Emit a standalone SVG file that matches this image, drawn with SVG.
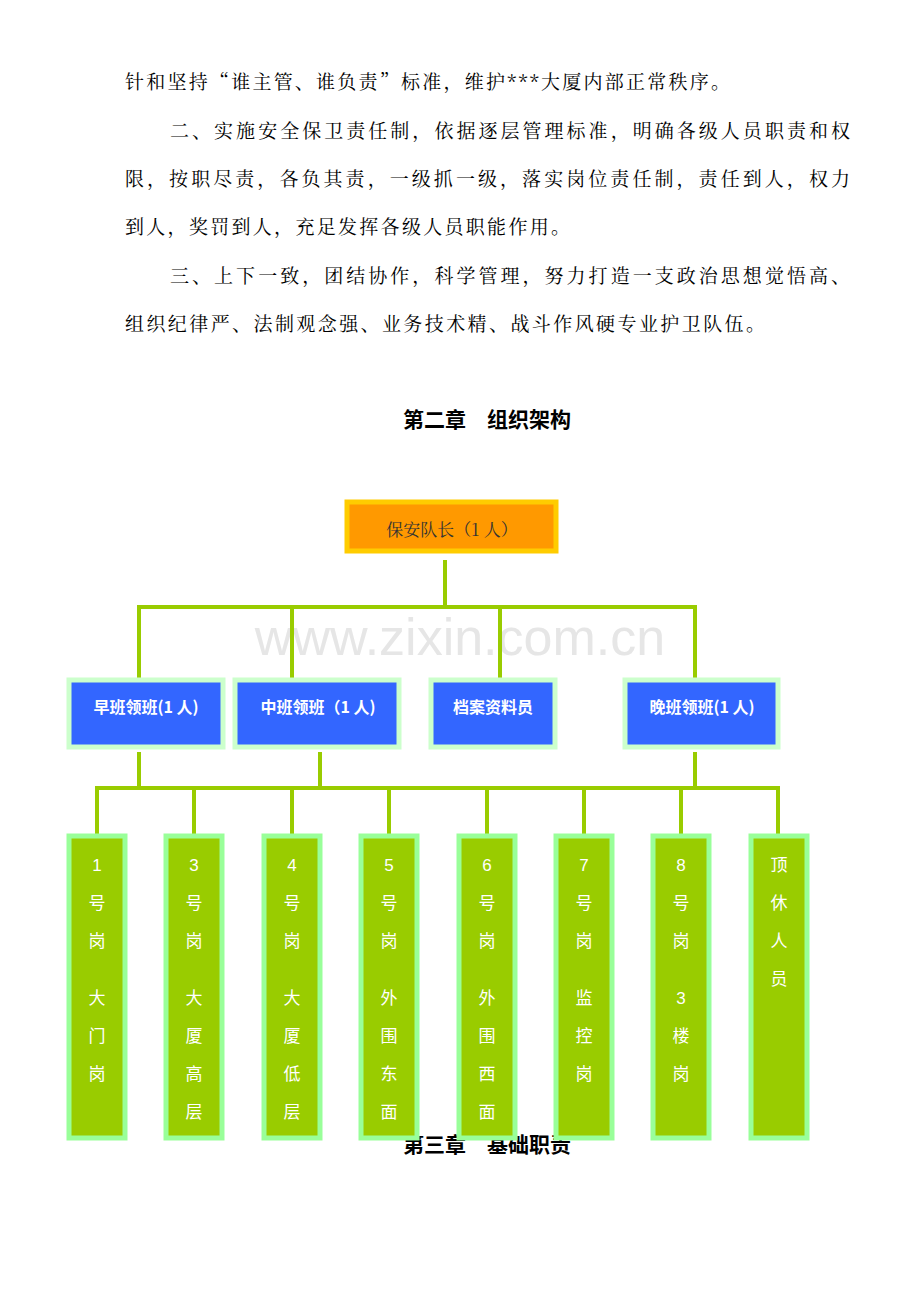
<svg xmlns="http://www.w3.org/2000/svg" width="920" height="1302" viewBox="0 0 920 1302">
<style>
.p{font-family:"Noto Serif CJK SC","Liberation Serif","Noto Sans CJK SC",serif;font-size:19px;fill:#000}
.h{font-family:"Noto Sans CJK SC",sans-serif;font-size:21px;font-weight:bold;fill:#000;text-anchor:middle}
.l{stroke:#99CC00;stroke-width:4;fill:none}
.b{fill:#3366FF;stroke:#CCFFCC;stroke-width:5}
.bt{font-family:"Noto Sans CJK SC",sans-serif;font-size:16px;font-weight:bold;fill:#fff;text-anchor:middle}
.g{fill:#99CC00;stroke:#99FF99;stroke-width:5}
.gt{font-family:"Liberation Sans","Noto Sans CJK SC",sans-serif;font-size:17px;fill:#fff;text-anchor:middle}
</style>
<rect width="920" height="1302" fill="#fff"/>
<text class="p" x="125" y="89" textLength="605">针和坚持“谁主管、谁负责”标准，维护***大厦内部正常秩序。</text>
<text class="p" x="170" y="138" textLength="680">二、实施安全保卫责任制，依据逐层管理标准，明确各级人员职责和权</text>
<text class="p" x="125" y="186" textLength="725">限，按职尽责，各负其责，一级抓一级，落实岗位责任制，责任到人，权力</text>
<text class="p" x="125" y="234" textLength="445">到人，奖罚到人，充足发挥各级人员职能作用。</text>
<text class="p" x="170" y="283" textLength="680">三、上下一致，团结协作，科学管理，努力打造一支政治思想觉悟高、</text>
<text class="p" x="125" y="331" textLength="640">组织纪律严、法制观念强、业务技术精、战斗作风硬专业护卫队伍。</text>
<text class="h" x="487" y="427">第二章　组织架构</text>
<text class="h" x="487" y="1152">第三章　基础职责</text>
<text x="460" y="655" text-anchor="middle" font-family="Liberation Sans,sans-serif" font-size="52" fill="#e6e6e6">www.zixin.com.cn</text>
<g id="connectors">
<path class="l" d="M445 560V607M138 607H695M139 605V680M292 605V680M500 605V680M695 605V680"/>
<path class="l" d="M139 752V788M320 752V788M695 752V788M97 788H778M97 786V836M194 786V836M292 786V836M389 786V836M487 786V836M584 786V836M681 786V836M778 786V836"/>
</g>
<g id="captain"><rect x="347" y="502" width="209" height="49" fill="#FF9900" stroke="#FFCC00" stroke-width="5"/><text x="452" y="536" text-anchor="middle" font-family="Noto Serif CJK SC,Liberation Serif,serif" font-size="17" fill="#333">保安队长（1 人）</text></g>
<g id="early"><rect class="b" x="69" y="680" width="154" height="67"/><text class="bt" x="146" y="713">早班领班(1 人)</text></g>
<g id="mid"><rect class="b" x="235" y="680" width="164" height="67"/><text class="bt" x="318" y="713">中班领班（1 人)</text></g>
<g id="archive"><rect class="b" x="431" y="680" width="124" height="67"/><text class="bt" x="493" y="713">档案资料员</text></g>
<g id="late"><rect class="b" x="625" y="680" width="153" height="67"/><text class="bt" x="702" y="713">晚班领班(1 人)</text></g>
<g id="p1"><rect class="g" x="69" y="836" width="56" height="302"/><text class="gt" x="97"><tspan x="97" y="871">1</tspan><tspan x="97" y="909">号</tspan><tspan x="97" y="947">岗</tspan><tspan x="97" y="1004">大</tspan><tspan x="97" y="1042">门</tspan><tspan x="97" y="1080">岗</tspan></text></g>
<g id="p3"><rect class="g" x="166" y="836" width="56" height="302"/><text class="gt"><tspan x="194" y="871">3</tspan><tspan x="194" y="909">号</tspan><tspan x="194" y="947">岗</tspan><tspan x="194" y="1004">大</tspan><tspan x="194" y="1042">厦</tspan><tspan x="194" y="1080">高</tspan><tspan x="194" y="1118">层</tspan></text></g>
<g id="p4"><rect class="g" x="264" y="836" width="56" height="302"/><text class="gt"><tspan x="292" y="871">4</tspan><tspan x="292" y="909">号</tspan><tspan x="292" y="947">岗</tspan><tspan x="292" y="1004">大</tspan><tspan x="292" y="1042">厦</tspan><tspan x="292" y="1080">低</tspan><tspan x="292" y="1118">层</tspan></text></g>
<g id="p5"><rect class="g" x="361" y="836" width="56" height="302"/><text class="gt"><tspan x="389" y="871">5</tspan><tspan x="389" y="909">号</tspan><tspan x="389" y="947">岗</tspan><tspan x="389" y="1004">外</tspan><tspan x="389" y="1042">围</tspan><tspan x="389" y="1080">东</tspan><tspan x="389" y="1118">面</tspan></text></g>
<g id="p6"><rect class="g" x="459" y="836" width="56" height="302"/><text class="gt"><tspan x="487" y="871">6</tspan><tspan x="487" y="909">号</tspan><tspan x="487" y="947">岗</tspan><tspan x="487" y="1004">外</tspan><tspan x="487" y="1042">围</tspan><tspan x="487" y="1080">西</tspan><tspan x="487" y="1118">面</tspan></text></g>
<g id="p7"><rect class="g" x="556" y="836" width="56" height="302"/><text class="gt"><tspan x="584" y="871">7</tspan><tspan x="584" y="909">号</tspan><tspan x="584" y="947">岗</tspan><tspan x="584" y="1004">监</tspan><tspan x="584" y="1042">控</tspan><tspan x="584" y="1080">岗</tspan></text></g>
<g id="p8"><rect class="g" x="653" y="836" width="56" height="302"/><text class="gt"><tspan x="681" y="871">8</tspan><tspan x="681" y="909">号</tspan><tspan x="681" y="947">岗</tspan><tspan x="681" y="1004">3</tspan><tspan x="681" y="1042">楼</tspan><tspan x="681" y="1080">岗</tspan></text></g>
<g id="rest"><rect class="g" x="751" y="836" width="56" height="302"/><text class="gt"><tspan x="779" y="871">顶</tspan><tspan x="779" y="909">休</tspan><tspan x="779" y="947">人</tspan><tspan x="779" y="985">员</tspan></text></g>
</svg>
